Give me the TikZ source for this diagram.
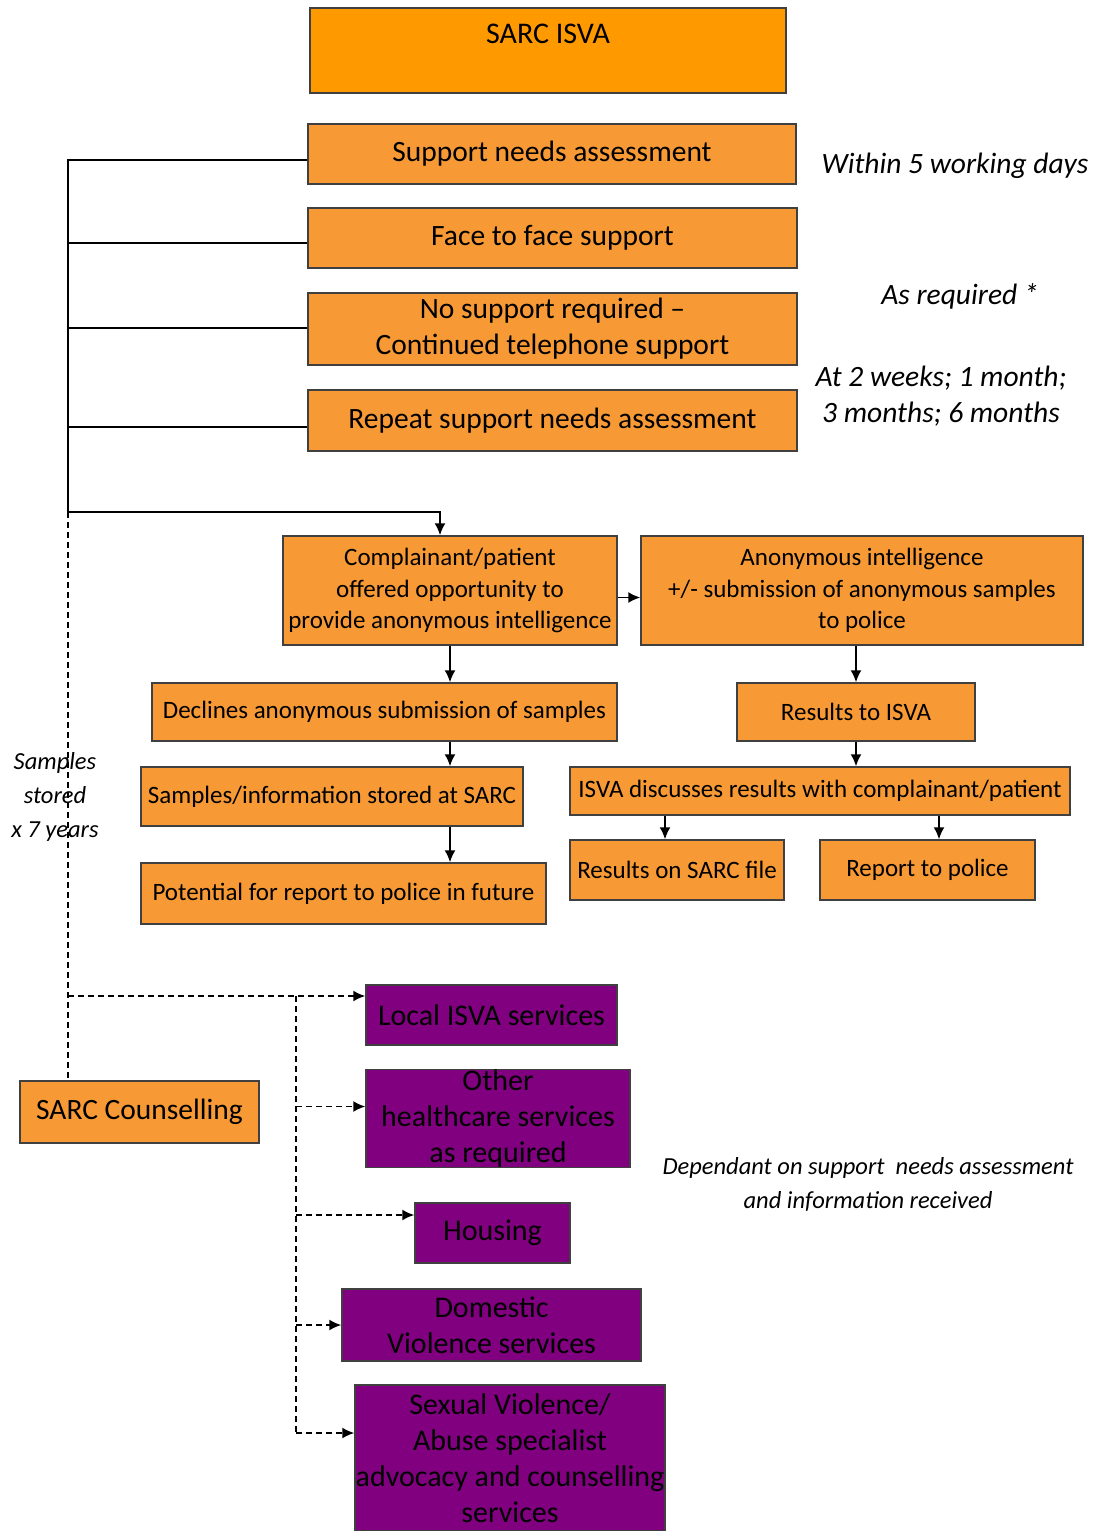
\documentclass[tikz,border=0pt]{standalone}
\usepackage{fontspec}
\setmainfont{Carlito}
\usetikzlibrary{arrows.meta}
\definecolor{sarcorange}{RGB}{255,153,0}
\definecolor{boxorange}{RGB}{247,154,54}
\definecolor{servpurple}{RGB}{128,0,128}
\definecolor{edgegray}{RGB}{64,64,64}
\tikzset{
  box/.style={
    draw=edgegray,
    line width=1.5pt,
    inner sep=0pt,
    align=center
  },
  box-orange/.style={box, fill=boxorange},
  box-purple/.style={box, fill=servpurple, font=\fontsize{30}{36}\selectfont},
  big-text/.style={font=\fontsize{29.5}{36}\selectfont},
  small-text/.style={font=\fontsize{25}{31.5}\selectfont},
  note/.style={align=center, inner sep=0pt, font=\itshape\fontsize{29.5}{36}\selectfont},
  note-small/.style={note, font=\itshape\fontsize{24.5}{34}\selectfont},
  link-plain/.style={line width=1.6pt},
  link/.style={link-plain, -{Latex[length=12pt,width=11pt]}},
  link-dashed/.style={line width=1.6pt, dash pattern=on 6pt off 4pt}
}

\begin{document}
\begin{tikzpicture}[x=1pt, y=-1pt]
  \useasboundingbox (0,0) rectangle (1095,1531);
  % ISVA pathway
  \node[box, fill=sarcorange, minimum width=476pt, text height=35pt, text depth=50pt,
    font=\fontsize{30}{32}\selectfont] (isva) at (548,50.5) {SARC ISVA};
  \node[box-orange, big-text, minimum width=488pt, minimum height=60pt] (sna) at (552,154) {Support needs assessment};
  \node[box-orange, big-text, minimum width=489pt, minimum height=60pt] (f2f) at (552.5,238) {Face to face support};
  \node[box-orange, big-text, minimum width=489pt, minimum height=72pt] (nsr) at (552.5,329) {No support required –\\Continued telephone support};
  \node[box-orange, big-text, minimum width=489pt, minimum height=61pt] (rsna) at (552.5,420.5) {Repeat support needs assessment};
  % Timings
  \node[note] (t-sna) at (955,166) {Within 5 working days};
  \node[note] (t-req) at (960,296) {As required *};
  \node[note] (t-rep) at (941,396) {At 2 weeks; 1 month;\\3 months; 6 months};
  % Anonymous intelligence
  \node[box-orange, small-text, minimum width=334pt, minimum height=109pt] (comp) at (450,590.5) {Complainant/patient\\offered opportunity to\\provide anonymous intelligence};
  \node[box-orange, small-text, minimum width=442pt, minimum height=109pt] (anon) at (862,590.5) {Anonymous intelligence\\+/- submission of anonymous samples\\to police};
  \node[box-orange, small-text, minimum width=465pt, minimum height=58pt] (decl) at (384.5,712) {Declines anonymous submission of samples};
  \node[box-orange, small-text, minimum width=238pt, minimum height=58pt] (res) at (856,712) {Results to ISVA};
  \node[box-orange, small-text, minimum width=382pt, minimum height=59pt] (stored) at (332,796.5) {Samples/information stored at SARC};
  \node[box-orange, small-text, minimum width=405pt, minimum height=61pt] (pot) at (343.5,893.5) {Potential for report to police in future};
  \node[box-orange, small-text, minimum width=500pt, minimum height=48pt] (disc) at (820,791) {ISVA discusses results with complainant/patient};
  \node[box-orange, small-text, minimum width=214pt, minimum height=60pt] (file) at (677,870) {Results on SARC file};
  \node[box-orange, small-text, minimum width=215pt, minimum height=60pt] (police) at (927.5,870) {Report to police};
  \node[note-small] (t-store) at (55,797) {Samples\\stored\\x 7 years};
  % Onward services
  \node[box-orange, big-text, minimum width=239pt, minimum height=62pt] (counsel) at (139.5,1112) {SARC Counselling};
  \node[box-purple, minimum width=251pt, minimum height=60pt] (local) at (491.5,1015) {Local ISVA services};
  \node[box-purple, minimum width=264pt, minimum height=97pt] (other) at (498,1118.5) {Other\\healthcare services\\as required};
  \node[box-purple, minimum width=155pt, minimum height=60pt] (housing) at (492.5,1233) {Housing};
  \node[box-purple, minimum width=299pt, minimum height=72pt] (dv) at (491.5,1325) {Domestic\\Violence services};
  \node[box-purple, minimum width=310pt, minimum height=146pt] (sv) at (510,1458) {Sexual Violence/\\Abuse specialist\\advocacy and counselling\\services};
  \node[note-small] (t-dep) at (868,1184) {Dependant on support\ \ needs assessment\\and information received};

  % Solid links
  \coordinate (spine) at (68,512);
  \draw[link-plain] ([yshift=-6pt]sna.west) -| (spine);
  \foreach \b/\s in {f2f/-5, nsr/1, rsna/-6.5}
    \draw[link-plain] ([yshift=\s pt]\b.west) -- ([yshift=\s pt]\b.west -| spine);
  \draw[link] (spine) -| ([xshift=-10pt]comp.north);
  \draw[link] ([yshift=-7pt]comp.east) -- ([yshift=-7pt]anon.west);
  \draw[link] (comp.south) -- (comp.south |- decl.north);
  \draw[link] (comp.south |- decl.south) -- (comp.south |- stored.north);
  \draw[link] (comp.south |- stored.south) -- (comp.south |- pot.north);
  \draw[link] (res.north |- anon.south) -- (res.north);
  \draw[link] (res.south) -- (res.south |- disc.north);
  \draw[link] ([xshift=-12pt]file.north |- disc.south) -- ([xshift=-12pt]file.north);
  \draw[link] ([xshift=11.5pt]police.north |- disc.south) -- ([xshift=11.5pt]police.north);

  % Dashed links
  \coordinate (fork) at (68,996);
  \coordinate (hub) at (296,996);
  \draw[link-dashed] (spine) -- (spine |- counsel.north);
  \draw[link, link-dashed] (fork) -- (local.west |- fork);
  \foreach \n/\s in {other/12, housing/18, dv/0, sv/25} {
    \coordinate (\n-in) at ([yshift=\s pt]\n.west);
    \draw[link, link-dashed] (\n-in -| hub) -- (\n-in);
  }
  \draw[link-dashed] (hub) -- (sv-in -| hub);
\end{tikzpicture}
\end{document}
